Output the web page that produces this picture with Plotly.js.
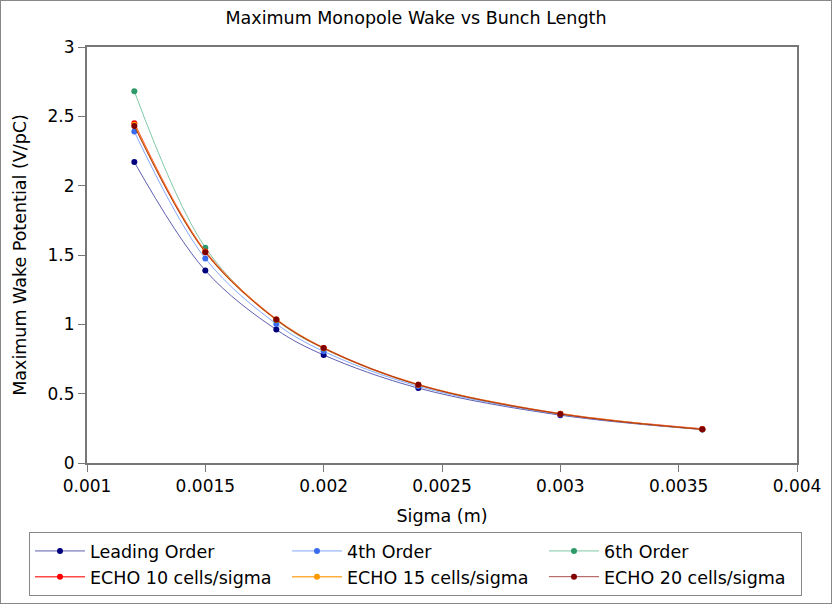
<!DOCTYPE html>
<html>
<head>
<meta charset="utf-8">
<script src="https://cdn.plot.ly/plotly-3.0.1.min.js"></script>
<style>
  body { margin: 0; background: #fff; }
  #frame { width: 830px; height: 602px; border: 1px solid #888; }
  #chart { width: 830px; height: 602px; }
</style>
</head>
<body>
<div id="frame"><div id="chart"></div></div>
<script>
// bunch length (m)
var sigma = [0.0012, 0.0015, 0.0018, 0.002, 0.0024, 0.003, 0.0036];

// max wake potential (V/pC)
var leadingOrder = [2.17, 1.388, 0.962, 0.779, 0.540, 0.345, 0.241];
var fourthOrder  = [2.39, 1.475, 1.003, 0.805, 0.553, 0.350, 0.243];
var sixthOrder   = [2.68, 1.553, 1.030, 0.825, 0.562, 0.353, 0.244];
var echo10       = [2.45, 1.525, 1.035, 0.829, 0.565, 0.355, 0.245];
var echo15       = [2.44, 1.522, 1.034, 0.828, 0.564, 0.355, 0.244];
var echo20       = [2.43, 1.520, 1.034, 0.829, 0.564, 0.354, 0.243];

var names = ['Leading Order', '4th Order', '6th Order',
             'ECHO 10 cells/sigma', 'ECHO 15 cells/sigma', 'ECHO 20 cells/sigma'];
var series = [leadingOrder, fourthOrder, sixthOrder, echo10, echo15, echo20];

var markerColors = ['#00007f', '#3a6cf0', '#2e9a6a', '#ff0000', '#ff9900', '#800000'];
var lineColors = ['rgba(40,40,150,0.75)', 'rgba(90,140,255,0.75)', 'rgba(60,170,120,0.65)',
                  'rgba(255,40,40,0.85)', 'rgba(255,160,30,0.85)', 'rgba(140,20,20,0.75)'];
var lineWidths = [1, 1, 1, 1.5, 1.5, 1];

var data = [];
for (var k = 0; k < series.length; k++) {
  data.push({
    x: sigma,
    y: series[k],
    name: names[k],
    type: 'scatter',
    mode: 'lines+markers',
    line: { shape: 'spline', smoothing: 1, color: lineColors[k], width: lineWidths[k] },
    marker: { color: markerColors[k], size: 6 }
  });
}

var fontFamily = '"DejaVu Sans", Verdana, sans-serif';

var layout = {
  width: 830,
  height: 602,
  margin: { l: 86, r: 34, t: 46, b: 140, pad: 0, autoexpand: false },
  paper_bgcolor: '#fff',
  plot_bgcolor: '#fff',
  font: { family: fontFamily, color: '#000', size: 17 },
  title: {
    text: 'Maximum Monopole Wake vs Bunch Length',
    font: { size: 17.5 },
    x: 0.5, xanchor: 'center',
    y: 0.972, yanchor: 'middle'
  },
  xaxis: {
    range: [0.001, 0.004],
    dtick: 0.0005,
    tick0: 0.001,
    showgrid: false,
    zeroline: false,
    showline: true,
    mirror: true,
    linecolor: '#777',
    linewidth: 2,
    ticks: 'outside',
    ticklen: 7,
    tickcolor: '#777',
    tickfont: { size: 17 },
    title: { text: 'Sigma (m)', font: { size: 17.5 }, standoff: 14 }
  },
  yaxis: {
    range: [0, 3],
    dtick: 0.5,
    showgrid: false,
    zeroline: false,
    showline: true,
    mirror: true,
    linecolor: '#777',
    linewidth: 2,
    ticks: 'outside',
    ticklen: 7,
    tickcolor: '#777',
    tickfont: { size: 17 },
    title: { text: 'Maximum Wake Potential (V/pC)', font: { size: 17.5 }, standoff: 16 }
  },
  showlegend: true,
  legend: {
    orientation: 'h',
    x: -0.0817, xanchor: 'left',
    y: -0.166, yanchor: 'top',
    bordercolor: '#888',
    borderwidth: 1,
    bgcolor: '#fff',
    font: { size: 17.5 },
    itemwidth: 50,
    entrywidth: 192,
    entrywidthmode: 'pixels',
    traceorder: 'normal'
  }
};

Plotly.newPlot('chart', data, layout, { displayModeBar: false, responsive: false });
</script>
</body>
</html>
